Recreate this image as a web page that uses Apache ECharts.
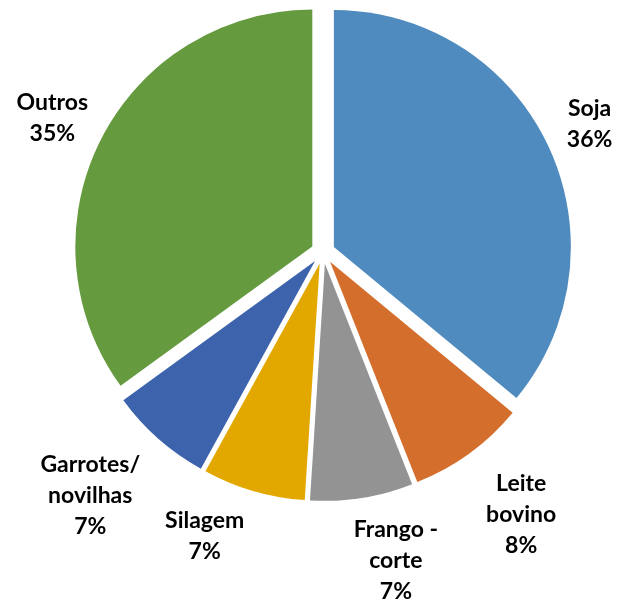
<!DOCTYPE html>
<html><head><meta charset="utf-8">
<script src="https://cdn.jsdelivr.net/npm/echarts@6/dist/echarts.min.js"></script>
<style>html,body{margin:0;padding:0;background:#fff}#c{width:619px;height:601px}</style>
</head><body><div id="c"></div>
<script>
const categories = ['Soja', 'Leite\nbovino', 'Frango -\ncorte', 'Silagem', 'Garrotes/\nnovilhas', 'Outros'];
const values = [36, 8, 7, 7, 7, 35];
const colors = ['#4F8BBE', '#D46E2C', '#939393', '#E2A800', '#3D63AD', '#659A3F'];
const labelLen = [15, 20, 16, 15, 20, 9];
const CX = 323, CY = 252;

const total = values.reduce((a, b) => a + b, 0);
const dirs = [];
let acc = 0;
values.forEach(v => {
  const t = 2 * Math.PI * (acc + v / 2) / total;
  dirs.push([Math.sin(t), -Math.cos(t)]);
  acc += v;
});
const clamp = (v) => Math.max(-1, Math.min(1, v));

const chart = echarts.init(document.getElementById('c'), null, {renderer: 'canvas'});
const data = categories.map((n, i) => ({
  name: n, value: values[i], selected: true,
  itemStyle: {color: colors[i]},
  labelLine: {show: false, length: labelLen[i], length2: 0}
}));
chart.setOption({
  animation: false,
  series: [{
    type: 'pie',
    center: [CX, CY],
    radius: 237,
    startAngle: 90,
    clockwise: true,
    selectedMode: 'multiple',
    selectedOffset: 12,
    avoidLabelOverlap: false,
    data: data,
    itemStyle: {borderWidth: 0},
    label: {
      show: true, position: 'outside', alignTo: 'none', distance: 0,
      formatter: p => p.name + '\n' + p.value + '%',
      fontFamily: 'Lato', fontWeight: 'bold', fontSize: 23, lineHeight: 31, color: '#000'
    },
    labelLayout: function (p) {
      const r = p.labelRect;
      const d = dirs[p.dataIndex];
      const fx = clamp(d[0] * 4);
      const fy = clamp(d[1] * 1.2);
      return {align: 'center', verticalAlign: 'middle',
              dx: fx * r.width / 2, dy: fy * r.height / 2};
    },
    emphasis: {disabled: true}
  }]
});
</script></body></html>
